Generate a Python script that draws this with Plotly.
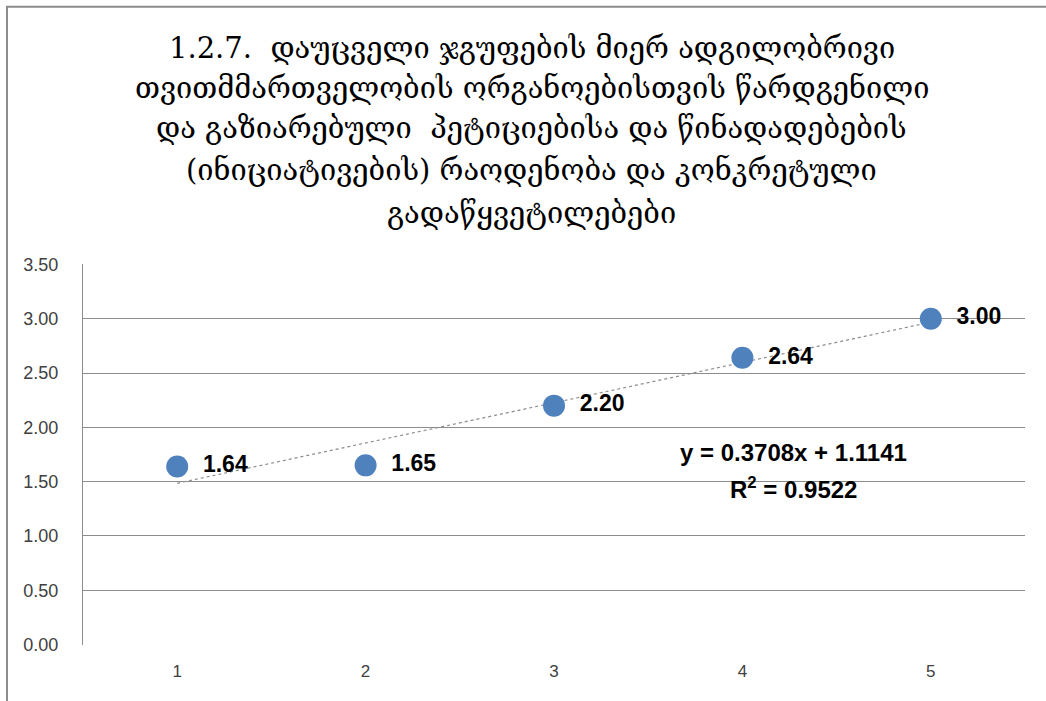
import plotly.graph_objects as go

categories = [1, 2, 3, 4, 5]
values = [1.64, 1.65, 2.20, 2.64, 3.00]
value_labels = ["1.64", "1.65", "2.20", "2.64", "3.00"]
y_ticks = [0, 0.5, 1.0, 1.5, 2.0, 2.5, 3.0, 3.5]
y_tick_labels = ["0.00", "0.50", "1.00", "1.50", "2.00", "2.50", "3.00", "3.50"]
slope = 0.3708
intercept = 1.1141
r2 = 0.9522

title_lines = [
    "1.2.7.  დაუცველი ჯგუფების მიერ ადგილობრივი",
    "თვითმმართველობის ორგანოებისთვის წარდგენილი",
    "და გაზიარებული  პეტიციებისა და წინადადებების",
    "(ინიციატივების) რაოდენობა და კონკრეტული",
    "გადაწყვეტილებები",
]
title_line_y = [1.567, 1.462, 1.357, 1.247, 1.134]

trend_x = [categories[0], categories[-1]]
trend_y = [slope * x + intercept for x in trend_x]

fig = go.Figure()
fig.add_trace(go.Scatter(
    x=trend_x, y=trend_y, mode="lines",
    line=dict(color="#8c8c8c", width=1.2, dash="dot"),
    hoverinfo="skip", showlegend=False,
))
fig.add_trace(go.Scatter(
    x=categories, y=values, mode="markers+text",
    marker=dict(color="#4f81bd", size=22),
    text=[" \u2009" + t for t in value_labels],
    textposition="middle right",
    textfont=dict(family="Liberation Sans, Arial", size=23, color="#000000", weight="bold"),
    showlegend=False,
))

fig.add_annotation(
    x=4.27, y=1.77, xref="x", yref="y",
    text="y = 0.3708x + 1.1141", showarrow=False,
    font=dict(family="Liberation Sans, Arial", size=24, color="#000000", weight="bold"),
)
fig.add_annotation(
    x=4.27, y=1.44, xref="x", yref="y",
    text="R<sup>2</sup> = 0.9522", showarrow=False,
    font=dict(family="Liberation Sans, Arial", size=24, color="#000000", weight="bold"),
)

for line, ly in zip(title_lines, title_line_y):
    fig.add_annotation(
        x=0.4766, y=ly, xref="paper", yref="paper", yanchor="middle",
        text=line, showarrow=False,
        font=dict(family="DejaVu Serif, serif", size=29, color="#000000"),
    )

fig.update_layout(
    width=1046, height=701,
    margin=dict(l=83, r=21, t=264, b=56),
    paper_bgcolor="white", plot_bgcolor="white",
    shapes=[dict(type="rect", xref="paper", yref="paper",
                 x0=-0.0807, y0=-0.3, x1=1.2, y1=1.675, line=dict(color="#8c8c8c", width=2))],
)
fig.update_xaxes(
    range=[0.5, 5.5], tickvals=categories, ticktext=[str(c) for c in categories],
    showgrid=False, zeroline=False, showline=False,
    tickfont=dict(family="Liberation Sans, Arial", size=17, color="#404040"),
    ticks="", ticklabelstandoff=14,
)
fig.update_yaxes(
    range=[-0.004, 3.504], tickvals=y_ticks, ticktext=y_tick_labels,
    showgrid=True, gridcolor="#8c8c8c", gridwidth=1.3, zeroline=False,
    showline=True, linecolor="#8c8c8c", linewidth=1.3,
    tickfont=dict(family="Liberation Sans, Arial", size=18, color="#404040"),
    ticks="", ticklabelstandoff=20,
)

fig.write_html("out.html")
